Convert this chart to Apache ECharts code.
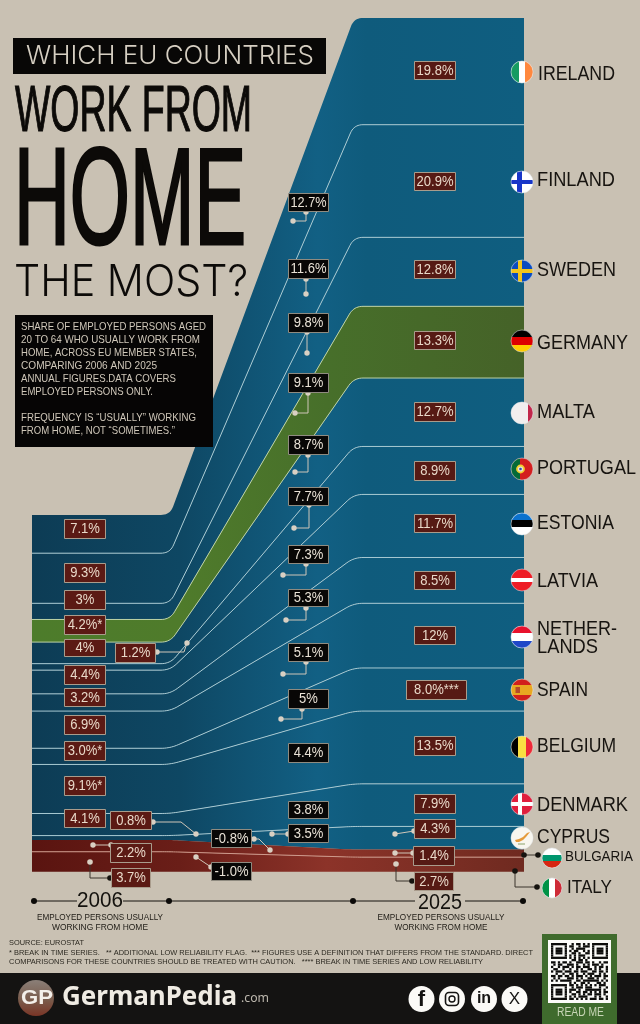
<!DOCTYPE html>
<html><head><meta charset="utf-8">
<style>html,body{margin:0;padding:0;background:#c9c1b3}#c{width:640px;height:1024px}</style>
<script src="https://cdn.jsdelivr.net/npm/echarts@6/dist/echarts.min.js"></script>
</head><body><div id="c"></div>
<script>
// ---------- data ----------
const countries = ['IRELAND','FINLAND','SWEDEN','GERMANY','MALTA','PORTUGAL','ESTONIA','LATVIA','NETHERLANDS','SPAIN','BELGIUM','DENMARK','CYPRUS','BULGARIA','ITALY'];
const share2006 = [7.1,9.3,3,4.2,4,1.2,4.4,3.2,6.9,3.0,9.1,4.1,0.8,2.2,3.7];
const share2025 = [19.8,20.9,12.8,13.3,12.7,8.9,11.7,8.5,12,8.0,13.5,7.9,4.3,1.4,2.7];
const labels2006 = ['7.1%','9.3%','3%','4.2%*','4%','1.2%','4.4%','3.2%','6.9%','3.0%*','9.1%*','4.1%','0.8%','2.2%','3.7%'];
const labels2025 = ['19.8%','20.9%','12.8%','13.3%','12.7%','8.9%','11.7%','8.5%','12%','8.0%***','13.5%','7.9%','4.3%','1.4%','2.7%'];
const labelsChange = ['12.7%','11.6%','9.8%','9.1%','8.7%','7.7%','7.3%','5.3%','5.1%','5%','4.4%','3.8%','3.5%','-0.8%','-1.0%'];
const bandKind = ['blue','blue','blue','green','blue','blue','blue','blue','blue','blue','blue','blue','blue','red','red'];
// ---------- layout ----------
const stages = [0, 0.2805, 0.6545, 1];
const box2006 = [[64,519,106,539],[64,563,106,583],[64,590,106,610],[64,615,106,635],[64,639,106,657],[115,643,156,663],[64,665,106,685],[64,688,106,707],[64,715,106,735],[64,741,106,761],[64,776,106,796],[64,809,106,828],[110,811,152,830],[110,843,152,863],[111,868,151,888]];
const box2025 = [[414,61,456,80],[414,172,456,191],[414,260,456,279],[414,331,456,350],[414,402,456,422],[414,461,456,481],[414,514,456,533],[414,571,456,590],[414,626,456,645],[406,680,467,700],[414,736,456,756],[414,794,456,814],[414,819,456,839],[413,846,455,866],[414,872,454,891]];
const boxChange = [[288,193,329,212],[288,259,329,279],[288,313,329,333],[288,373,329,393],[288,435,329,455],[288,487,329,506],[288,545,329,564],[288,589,329,607],[288,643,329,662],[288,689,329,709],[288,743,329,763],[288,801,329,819],[288,824,329,843],[211,829,252,848],[211,862,252,881]];
const PALE='#d9d0c3', INK='#15130f';
const leaders = [
 {p:[[306,212],[306,221],[293,221]]},{p:[[306,279],[306,294]]},{p:[[307,332],[307,353]]},
 {p:[[308,393],[308,413],[295,413]]},{p:[[308,455],[308,472],[295,472]]},{p:[[309,505],[309,528],[294,528]]},
 {p:[[306,564],[306,575],[283,575]]},{p:[[306,608],[306,620],[286,620]]},{p:[[306,662],[306,674],[283,674]]},
 {p:[[302,709],[302,719],[281,719]]},{p:[[272,834],[288,834]],only:0},
 {p:[[254,839],[259,839],[270,850]]},{p:[[211,867],[196,857]]},
 {p:[[153,822],[181,822],[196,834]]},{p:[[157,652],[184,652],[187,643]]},
 {p:[[111,845],[93,845]]},
 {p:[[395,834],[414,831]]},{p:[[395,853],[413,853]]}
];
const inkLeaders = [
 {p:[[110,878],[90,878],[90,862]],a:INK,b:PALE},
 {p:[[412,881],[396,881],[396,864]],a:INK,b:PALE},
 {p:[[524,855],[538,855]],a:INK,b:INK},
 {p:[[515,871],[515,887],[537,887]],a:INK,b:INK}
];
const flagSpots = {IRELAND:[522,72,11],FINLAND:[522,182,11],SWEDEN:[522,271,11],GERMANY:[522,341,11],MALTA:[522,413,11],PORTUGAL:[522,469,11],ESTONIA:[522,524,11],LATVIA:[522,580,11],NETHERLANDS:[522,637,11],SPAIN:[522,690,11],BELGIUM:[522,747,11],DENMARK:[522,804,11],CYPRUS:[522,838,11],BULGARIA:[552,858,10],ITALY:[552,888,10]};
const nameSpots = [['IRELAND',538,74,77],['FINLAND',537,180,78],['SWEDEN',537,270,79],['GERMANY',537,343,91],['MALTA',537,412,58],['PORTUGAL',537,468,99],['ESTONIA',537,523,77],['LATVIA',537,581,61],['NETHER-',537,629,80],['LANDS',537,647,61],['SPAIN',537,690,51],['BELGIUM',537,746,79],['DENMARK',537,805,91],['CYPRUS',537,837,73]];

// ---------- bands, stacked through the axes ----------
const n = countries.length;
const rows = [];
{ let a = 0, b = 0;
  for (let i = n-1; i >= 0; i--) { rows[i] = [a, a+share2006[i], b, b+share2025[i], i]; a += share2006[i]; b += share2025[i]; }
}
const total2025 = rows[0][3];
const grad = s => new echarts.graphic.LinearGradient(0,0,1,0,s.map((c,i)=>({offset:c[0],color:c[1]})));
const fills = {
 blue:[[0,'#0d3c55'],[.3,'#0e4763'],[.58,'#126084'],[.68,'#0f5b7c'],[1,'#0f5e80']],
 green:[[0,'#4d7c2b'],[.3,'#4f7b2b'],[.6,'#476f2a'],[1,'#456228']],
 red:[[0,'#5a1410'],[.3,'#6a1e18'],[.6,'#8c3329'],[1,'#6f2a20']]
};
function rounded(pts, r){
  const out=[pts[0]];
  for(let i=1;i<pts.length-1;i++){
    const P=pts[i],A=pts[i-1],B=pts[i+1];
    const la=Math.hypot(P[0]-A[0],P[1]-A[1]),lb=Math.hypot(B[0]-P[0],B[1]-P[1]);
    const d=Math.min(r,la*.45,lb*.45);
    const s=[P[0]+(A[0]-P[0])/la*d,P[1]+(A[1]-P[1])/la*d],e=[P[0]+(B[0]-P[0])/lb*d,P[1]+(B[1]-P[1])/lb*d];
    for(let t=0;t<=10;t++){const u=t/10,v=1-u;out.push([v*v*s[0]+2*v*u*P[0]+u*u*e[0],v*v*s[1]+2*v*u*P[1]+u*u*e[1]]);}
  }
  out.push(pts[pts.length-1]);return out;
}
function renderBand(params, api){
  const lo06=api.value(0),hi06=api.value(1),lo25=api.value(2),hi25=api.value(3),i=api.value(4);
  const edge=(v06,v25)=>rounded([[stages[0],v06],[stages[1],v06],[stages[2],v25],[stages[3],v25]].map(p=>api.coord(p)),9);
  const top=edge(hi06,hi25),bot=edge(lo06,lo25);
  const kids=[{type:'polygon',shape:{points:top.concat(bot.slice().reverse())},style:{fill:grad(fills[bandKind[i]])},silent:true}];
  const c = i===0||i===13?null:(bandKind[i]==='red'?'#cf9a8c':(i===3||i===4?'#bcd2a6':'#a7c9d2'));
  if(c) kids.push({type:'polyline',z2:10,shape:{points:top},style:{stroke:c,lineWidth:1,fill:null},silent:true});
  return {type:'group',children:kids};
}

// ---------- annotation helpers ----------
const g=[];
const mctx=document.createElement('canvas').getContext('2d');
function measure(t,font){mctx.font=font;return mctx.measureText(t).width;}
const SANS='"Liberation Sans",Arial,sans-serif';
function txt(t,x,y,w,font,fill,align,strokeW){
  const sx=w?w/measure(t,font):1;
  const st={text:t,x:0,y:0,font,fill,textAlign:align||'left',textVerticalAlign:'middle'};
  if(strokeW){st.stroke=fill;st.lineWidth=strokeW;}
  g.push({type:'text',z:100,silent:true,x,y,scaleX:sx,style:st});
}
function rect(x0,y0,x1,y1,fill,stroke,extra){
  g.push(Object.assign({type:'rect',z:100,silent:true,shape:{x:x0,y:y0,width:x1-x0,height:y1-y0},style:{fill,stroke:stroke||null,lineWidth:stroke?1:0}},extra||{}));
}
function dot(x,y,r,fill){g.push({type:'circle',z:100,silent:true,shape:{cx:x,cy:y,r},style:{fill}});}
function poly(p,stroke,w){g.push({type:'polyline',z:100,silent:true,shape:{points:p},style:{stroke,lineWidth:w||1,fill:null}});}
function valueBox(b,t,fill,stroke,color){
  rect(b[0]+.5,b[1]+.5,b[2]-.5,b[3]-.5,fill,stroke);
  const font='14px '+SANS, avail=b[2]-b[0]-5, m=measure(t,font)*.93;
  txt(t,(b[0]+b[2])/2,(b[1]+b[3])/2+.3,Math.min(m,avail),font,color,'center');
}
function stripe(cx,cy,r,dir,bands){
  const st=[];const T='rgba(0,0,0,0)';
  bands.forEach(([a,b,c])=>{st.push({offset:a,color:T},{offset:a,color:c},{offset:b,color:c},{offset:b,color:T});});
  const f=dir==='v'?{x:0,y:0,x2:1,y2:0}:{x:0,y:0,x2:0,y2:1};
  g.push({type:'circle',z:100,silent:true,shape:{cx,cy,r},style:{fill:Object.assign({type:'linear',global:false,colorStops:st},f)}});
}
const flagDefs={
 IRELAND:['#fff',[['v',[[0,.36,'#169b62'],[.64,1,'#ff883e']]]]],
 FINLAND:['#fff',[['v',[[.28,.48,'#1836c8']]],['h',[[.4,.6,'#1836c8']]]]],
 SWEDEN:['#0a4bc0',[['v',[[.3,.48,'#f2c41c']]],['h',[[.41,.59,'#f2c41c']]]]],
 GERMANY:['#000',[['h',[[.34,.67,'#dd0000'],[.67,1,'#ffce00']]]]],
 MALTA:['#f2eeee',[['v',[[.78,1,'#c1274a']]]]],
 PORTUGAL:['#d31f1f',[['v',[[0,.42,'#046a38']]]]],
 ESTONIA:['#fff',[['h',[[0,.34,'#0b72ce'],[.34,.62,'#000']]]]],
 LATVIA:['#ee1c25',[['h',[[.42,.58,'#fff']]]]],
 NETHERLANDS:['#fff',[['h',[[0,.33,'#e8112d'],[.67,1,'#1f47c8']]]]],
 SPAIN:['#e8a821',[['h',[[0,.26,'#d1201c'],[.74,1,'#d1201c']]]]],
 BELGIUM:['#fae042',[['v',[[0,.33,'#000'],[.67,1,'#ed2939']]]]],
 DENMARK:['#e01f3d',[['v',[[.34,.5,'#fff']]],['h',[[.42,.58,'#fff']]]]],
 CYPRUS:['#f8f6ef',[]],
 BULGARIA:['#fff',[['h',[[.33,.67,'#00966e'],[.67,1,'#d62612']]]]],
 ITALY:['#fff',[['v',[[0,.34,'#009246'],[.66,1,'#ce2b37']]]]]
};
function drawFlag(name){
  const [cx,cy,r]=flagSpots[name],[base,layers]=flagDefs[name];
  g.push({type:'circle',z:100,silent:true,shape:{cx,cy,r},style:{fill:base}});
  layers.forEach(l=>stripe(cx,cy,r,l[0],l[1]));
  if(name==='PORTUGAL'){dot(cx-1.5,cy,4.4,'#f3d02e');dot(cx-1.5,cy,2.6,'#e9e4dc');dot(cx-1.5,cy,1.3,'#2c4fb0');}
  if(name==='SPAIN'){rect(cx-6.5,cy-3,cx-2,cy+3,'#b5482a');}
  if(name==='CYPRUS'){g.push({type:'polygon',z:100,silent:true,shape:{points:[[cx-7,cy+2],[cx-3,cy+1],[cx+1,cy-1],[cx+5,cy-5],[cx+8,cy-6],[cx+4,cy-1],[cx+1,cy+2],[cx-3,cy+4],[cx-6,cy+4]]},style:{fill:'#e59a3a'}});
    poly([[cx-4,cy+6],[cx+3,cy+6]],'#8aa26a',1);}
  g.push({type:'circle',z:100,silent:true,shape:{cx,cy,r},style:{fill:null,stroke:'rgba(230,236,240,.65)',lineWidth:.8}});
}

// ---------- title block ----------
rect(13,38,326,74,'#080706');
txt('WHICH EU COUNTRIES',26,56,288,'300 26px Inter,'+SANS,'#d6cfc2');
txt('WORK FROM',15,113,237,'65px '+SANS,'#0c0a08','left',1.2);
txt('HOME',14,206,232,'138px '+SANS,'#0c0a08','left',3);
txt('THE MOST?',14,283.5,234,'300 43px Inter,'+SANS,'#0c0a08');
rect(15,315,213,447,'#060505');
[['SHARE OF EMPLOYED PERSONS AGED',327,185],['20 TO 64 WHO USUALLY WORK FROM',340,179],['HOME, ACROSS EU MEMBER STATES,',353,176],['COMPARING 2006 AND 2025',366,136],['ANNUAL FIGURES.DATA COVERS',379,155],['EMPLOYED PERSONS ONLY.',392,132],['FREQUENCY IS “USUALLY” WORKING',418,175],['FROM HOME, NOT “SOMETIMES.”',431,154]].forEach(l=>txt(l[0],21,l[1],l[2],'11px '+SANS,'#cfc7b9'));

// ---------- leaders then boxes ----------
leaders.forEach(l=>{poly(l.p,'#cfc6b8',1);const a=l.p[0],b=l.p[l.p.length-1];dot(a[0],a[1],2.7,PALE);dot(b[0],b[1],2.7,PALE);});
inkLeaders.forEach(l=>{poly(l.p,'#3a352c',1);const a=l.p[0],b=l.p[l.p.length-1];dot(a[0],a[1],2.8,l.a);dot(b[0],b[1],2.8,l.b);});
for(let i=0;i<n;i++){
  valueBox(box2006[i],labels2006[i],'#5b1a14','#a99c8c','#e9d9c9');
  valueBox(box2025[i],labels2025[i],'#561a14','#a99c8c','#e9d9c9');
  valueBox(boxChange[i],labelsChange[i],'#080706','#8f8b80','#e9e2d6');
}
// flags and names
countries.forEach(drawFlag);
nameSpots.forEach(s=>txt(s[0],s[1],s[2],s[3],'20px '+SANS,'#171410'));
txt('BULGARIA',565,857,68,'15px '+SANS,'#171410');
txt('ITALY',567,888,45,'19px '+SANS,'#171410');

// ---------- timeline ----------
poly([[34,901],[77,901]],INK,1);poly([[123,901],[415,901]],INK,1);poly([[465,901],[523,901]],INK,1);
[34,169,353,523].forEach(x=>dot(x,901,3,'#0b0a08'));
txt('2006',100,901,46,'22px '+SANS,'#14120e','center');
txt('2025',440,903,44,'22px '+SANS,'#14120e','center');
[[100,126,148],[441,127,145]].forEach(t=>{
  txt('EMPLOYED PERSONS USUALLY',t[0],917,t[1],'9.5px '+SANS,'#24211b','center');
  txt('WORKING FROM HOME',t[0],927,t[2]-52,'9.5px '+SANS,'#24211b','center');
});
// ---------- notes ----------
txt('SOURCE: EUROSTAT',9,943,75,'8px '+SANS,'#2b2820');
txt('* BREAK IN TIME SERIES.   ** ADDITIONAL LOW RELIABILITY FLAG.  *** FIGURES USE A DEFINITION THAT DIFFERS FROM THE STANDARD. DIRECT',9,952.7,524,'8px '+SANS,'#2b2820');
txt('COMPARISONS FOR THESE COUNTRIES SHOULD BE TREATED WITH CAUTION.   **** BREAK IN TIME SERIES AND LOW RELIABILITY',9,961.7,474,'8px '+SANS,'#2b2820');

// ---------- footer ----------
rect(0,973,640,1024,'#141312');
g.push({type:'circle',z:100,silent:true,shape:{cx:36,cy:998,r:18},style:{fill:{type:'linear',x:0,y:0,x2:0,y2:1,colorStops:[{offset:0,color:'#8a7f78'},{offset:.55,color:'#7a5c4c'},{offset:1,color:'#7a3526'}]}}});
txt('GP',37,998,32,'bold 21px '+SANS,'#f4f0ea','center');
txt('GermanPedia',62,998,175,'bold 26px "Noto Sans","Open Sans",sans-serif','#efebe3');
txt('.com',241,998,28,'13px "Noto Sans",sans-serif','#bdb8ae');
const social=[421.5,452,484,514.5];
social.forEach(x=>dot(x,999,13,'#fbfaf7'));
txt('f',421.5,1000,0,'bold 22px '+SANS,'#141312','center');
g.push({type:'rect',z:100,silent:true,shape:{x:445.5,y:992.5,width:13,height:13,r:3.5},style:{fill:null,stroke:'#141312',lineWidth:1.6}});
g.push({type:'circle',z:100,silent:true,shape:{cx:452,cy:999,r:3},style:{fill:null,stroke:'#141312',lineWidth:1.4}});
txt('in',484,999,0,'bold 16px '+SANS,'#141312','center');
txt('X',514.5,999,0,'17px '+SANS,'#141312','center');
// QR
rect(542,934,617,1024,'#3f6b2d');
rect(548,940,611,1003,'#fbfbf8');
const qr=[
'#######..#.##.#.#.#######','#.....#.##..#.###.#.....#','#.###.#..#.####...#.###.#','#.###.#.#.##..#.#.#.###.#','#.###.#..##.#..##.#.###.#','#.....#.#.#.###...#.....#','#######.#.#.#.#.#.#######','.........##.##.#.........',
'##.#.##.#..###.##.#..#.##','.#.##..###.#..#.#.###.#..','#..#.###.#.##.###..#.##.#','.##..#..#..#.#..##.#.#..#','#.###.###.##.###..##.##.#','..#..#..##.#..#.###..#.#.','##.##.##.#.###.#.#.###.##','.#.#...###.#.#..###.#..#.','#.#.#####..##.#######.#.#',
'........#.#..##.#...##.#.','#######.##.#.#.#.#.#.###.','#.....#..#.###.###...#..#','#.###.#.###.#..#######.#.','#.###.#.#..##.##.#.#.#.##','#.###.#..##.#.#.##.###.#.','#.....#.#.#.####...#.#..#','#######.##.#.#.#.###.##.#'];
const qrSize=2.28,qrX=551,qrY=943;
qr.forEach((row,y)=>{let x=0;while(x<row.length){if(row[x]==='#'){let e=x;while(row[e+1]==='#')e++;rect(qrX+x*qrSize,qrY+y*qrSize,qrX+(e+1)*qrSize,qrY+(y+1)*qrSize,'#0d0d0b');x=e+1;}else x++;}});
txt('READ ME',580.5,1012.5,47,'12px '+SANS,'#c8d6b6','center');

// ---------- chart ----------
const chart=echarts.init(document.getElementById('c'),null,{renderer:'canvas',width:640,height:1024});
chart.setOption({
  animation:false,
  backgroundColor:'#c9c1b3',
  grid:{left:32,top:18,width:492,height:853.7,containLabel:false},
  xAxis:{type:'value',min:0,max:1,show:false},
  yAxis:{type:'value',min:0,max:total2025,show:false},
  series:[{type:'custom',name:'Share working from home',coordinateSystem:'cartesian2d',data:rows,clip:false,silent:true,z:2,renderItem:renderBand,encode:{x:[],y:[0,1,2,3]}}],
  graphic:{elements:g}
});
</script></body></html>
